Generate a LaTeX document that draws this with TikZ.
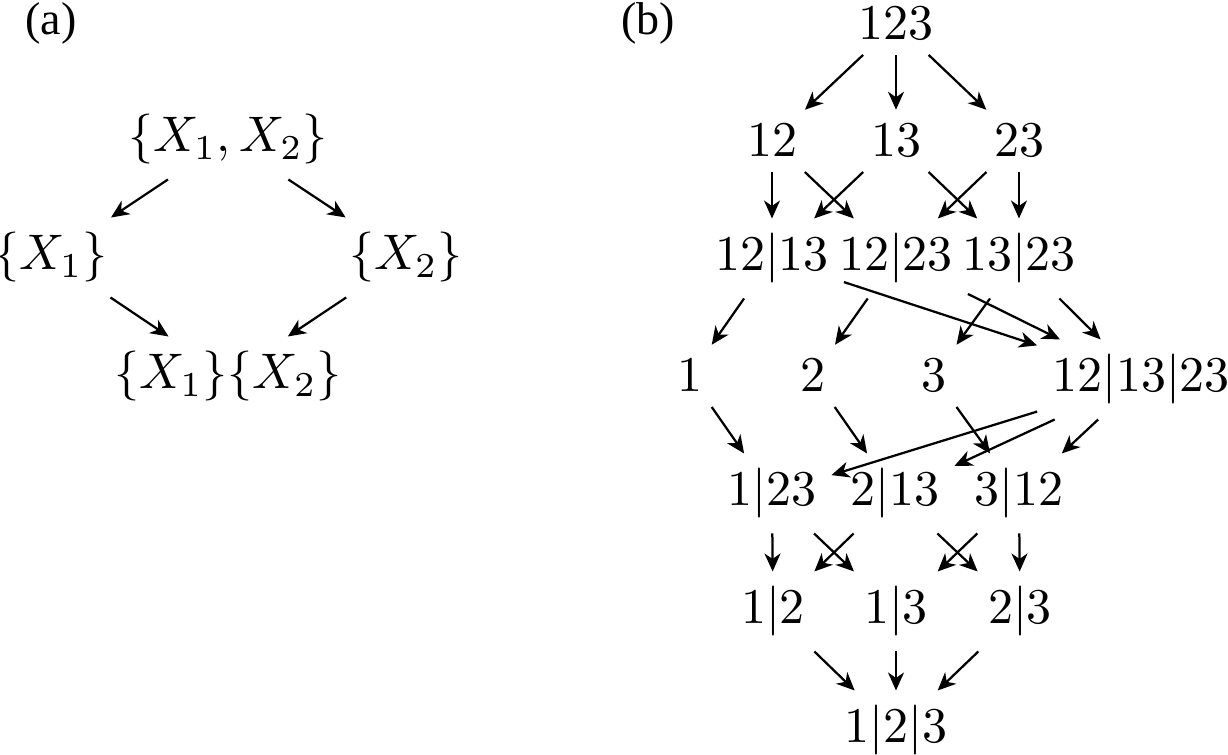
\documentclass[tikz,border=0pt]{standalone}
\usepackage[no-math]{fontspec}
\newfontfamily\labfont{Liberation Serif}
\usetikzlibrary{arrows.meta}
\tikzset{
  obj/.style={inner sep=3pt, outer sep=0pt, anchor=base, font=\fontsize{10}{12}\selectfont},
  arr/.style={-{Stealth[length=3.6pt,width=3.2pt,inset=1.1pt]}, line width=0.45pt},
  tag/.style={inner sep=0pt, font=\fontsize{9.2}{11}\selectfont\labfont}
}
\begin{document}
\begin{tikzpicture}[x=0.2pt,y=-0.2pt]
\useasboundingbox (0,0) rectangle (1228,755);
% (a)
\node[tag] (la) at (51,23) {(a)};
\node[obj] (x12) at (228,152) {$\{X_1,X_2\}$};
\node[obj] (x1) at (51,270) {$\{X_1\}$};
\node[obj] (x2) at (406,270) {$\{X_2\}$};
\node[obj] (x1x2) at (228,389) {$\{X_1\}\{X_2\}$};
\draw[arr] (x12) -- (x1);
\draw[arr] (x12) -- (x2);
\draw[arr] (x1) -- (x1x2);
\draw[arr] (x2) -- (x1x2);
% (b)
\node[tag] (lb) at (648,23) {(b)};
\node[obj] (n123) at (896,40) {$123$};
\node[obj] (n12) at (772,157) {$12$};
\node[obj] (n13) at (896,157) {$13$};
\node[obj] (n23) at (1019,157) {$23$};
\node[obj] (p1213) at (772,271) {$12|13$};
\node[obj] (p1223) at (896,271) {$12|23$};
\node[obj] (p1323) at (1019,271) {$13|23$};
\node[obj] (s1) at (690,392) {$1$};
\node[obj] (s2) at (813,392) {$2$};
\node[obj] (s3) at (934,392) {$3$};
\node[obj] (t) at (1141,392) {$12|13|23$};
\node[obj] (q123) at (772,506) {$1|23$};
\node[obj] (q213) at (895,506) {$2|13$};
\node[obj] (q312) at (1019,506) {$3|12$};
\node[obj] (r12) at (773,624) {$1|2$};
\node[obj] (r13) at (896,624) {$1|3$};
\node[obj] (r23) at (1020,624) {$2|3$};
\node[obj] (bot) at (896,743) {$1|2|3$};
\draw[arr] (n123) -- (n12);
\draw[arr] (n123) -- (n13);
\draw[arr] (n123) -- (n23);
\draw[arr] (n12) -- (p1213);
\draw[arr] (n12) -- (p1223);
\draw[arr] (n13) -- (p1213);
\draw[arr] (n13) -- (p1323);
\draw[arr] (n23) -- (p1223);
\draw[arr] (n23) -- (p1323);
\draw[arr] (p1213) -- (s1);
\draw[arr] (p1213) -- (t);
\draw[arr] (p1223) -- (s2);
\draw[arr] (p1223) -- (t);
\draw[arr] (p1323) -- (s3);
\draw[arr] (p1323) -- (t);
\draw[arr] (s1) -- (q123);
\draw[arr] (s2) -- (q213);
\draw[arr] (s3) -- (q312);
\draw[arr] (t) -- (q123);
\draw[arr] (t) -- (q213);
\draw[arr] (t) -- (q312);
\draw[arr] (q123) -- (r12);
\draw[arr] (q123) -- (r13);
\draw[arr] (q213) -- (r12);
\draw[arr] (q213) -- (r23);
\draw[arr] (q312) -- (r13);
\draw[arr] (q312) -- (r23);
\draw[arr] (r12) -- (bot);
\draw[arr] (r13) -- (bot);
\draw[arr] (r23) -- (bot);
\end{tikzpicture}
\end{document}
